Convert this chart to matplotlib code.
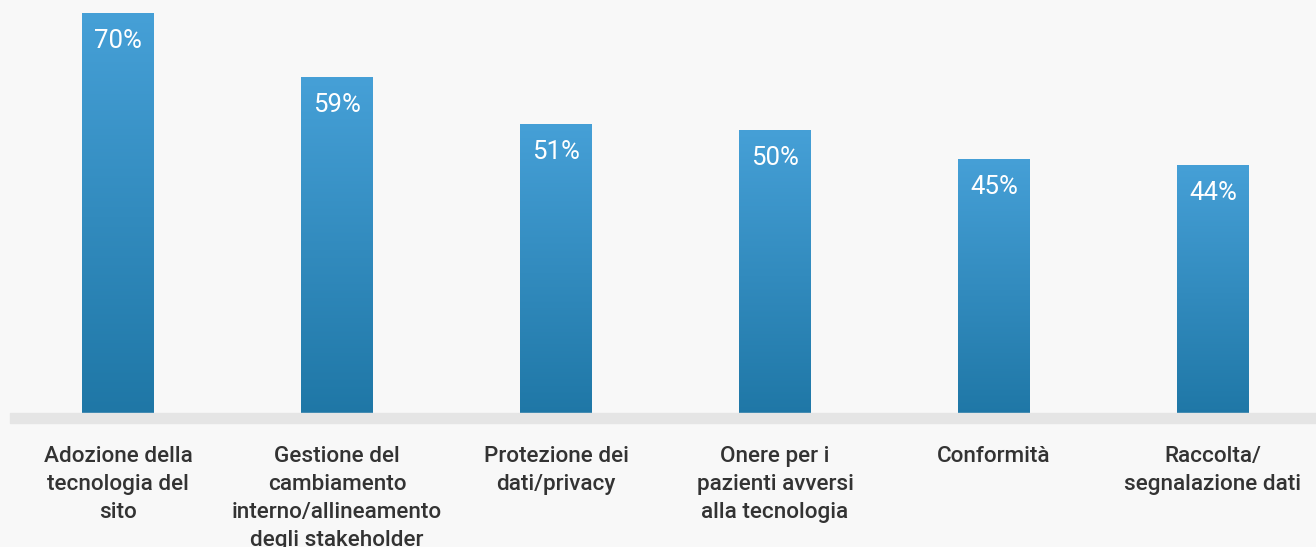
import numpy as np
import matplotlib.pyplot as plt
from matplotlib.colors import LinearSegmentedColormap

categorie = ['Adozione della\ntecnologia del\nsito',
             'Gestione del\ncambiamento\ninterno/allineamento\ndegli stakeholder',
             'Protezione dei\ndati/privacy',
             'Onere per i\npazienti avversi\nalla tecnologia',
             'Conformità',
             'Raccolta/\nsegnalazione dati']
valori = [70, 59, 51, 50, 45, 44]

plt.rcParams['font.family'] = ['Roboto', 'DejaVu Sans']

fig = plt.figure(figsize=(13.16, 5.47), dpi=100, facecolor='#f8f8f8')
ax = fig.add_axes([0, (547 - 422) / 547, 1, 422 / 547])
ax.set_facecolor('#f8f8f8')

x = np.arange(len(valori))
larghezza = 72 / 219
barre = ax.bar(x, valori, width=larghezza, color='none', edgecolor='none')

# gradiente verticale per ogni barra
cmap = LinearSegmentedColormap.from_list('blu', ['#1e76a5', '#46a0d7'])
grad = np.linspace(0, 1, 256).reshape(-1, 1)
for b, v, xi in zip(barre, valori, x):
    im = ax.imshow(grad, cmap=cmap, origin='lower', aspect='auto',
                   extent=[xi - larghezza / 2, xi + larghezza / 2, 0, v], zorder=2)
    im.set_clip_path(b)
    ax.annotate(f'{v}%', (xi, v), xytext=(0, -11.5), textcoords='offset points',
                ha='center', va='top', color='white', fontsize=18.5, zorder=4)

# fascia grigia sotto le barre
ax.axhspan(-0.2, 1.55, xmin=10 / 1316, xmax=1, color='#e5e5e5', zorder=3, clip_on=False)

ax.set_xlim(-118 / 219, (1316 - 118) / 219)
ax.set_ylim(0, 422 / 5.846)
ax.set_xticks(x)
ax.set_xticklabels(categorie, fontsize=16.2, fontweight='medium', color='#333333',
                   linespacing=1.44)
ax.tick_params(axis='x', length=0, pad=17)
ax.set_yticks([])
for s in ax.spines.values():
    s.set_visible(False)

fig.savefig('out.png', dpi=100, facecolor='#f8f8f8')
